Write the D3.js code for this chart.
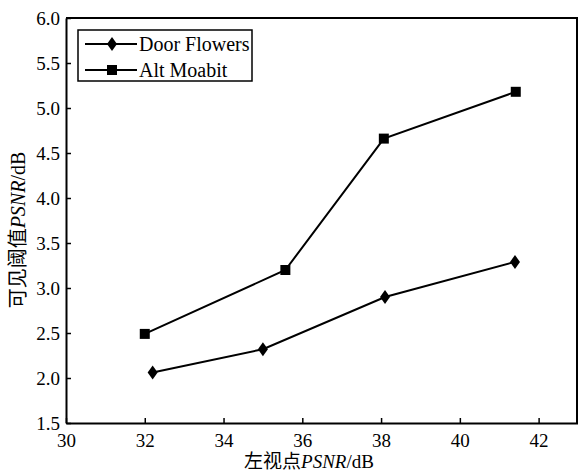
<!DOCTYPE html>
<html>
<head>
<meta charset="utf-8">
<script src="https://cdn.jsdelivr.net/npm/d3@7"></script>
<style>
  body { margin: 0; background: #fff; }
  svg text { font-family: "Liberation Serif", serif; fill: #000; }
  svg .cjk { font-family: "Noto Sans CJK SC", sans-serif; }
</style>
</head>
<body>
<div id="chart"></div>
<script>
// data
let seriesNames = ["Door Flowers", "Alt Moabit"];
let doorX = [32.2, 35.0, 38.1, 41.4];
let doorY = [2.06, 2.32, 2.90, 3.29];
let altX = [32.0, 35.57, 38.07, 41.42];
let altY = [2.49, 3.20, 4.66, 5.18];
let xTicks = [30, 32, 34, 36, 38, 40, 42];
let yTicks = [1.5, 2.0, 2.5, 3.0, 3.5, 4.0, 4.5, 5.0, 5.5, 6.0];

var margin = {top: 18, right: 0, bottom: 51, left: 66},
    width = 578 - margin.left - margin.right,
    height = 474 - margin.top - margin.bottom;

var svg = d3.select("#chart")
  .append("svg")
  .attr("width", 578)
  .attr("height", 474);
var g = svg.append("g")
  .attr("transform", "translate(" + margin.left + "," + margin.top + ")");

var x = d3.scaleLinear().domain([30, 43]).range([0, width]);
var y = d3.scaleLinear().domain([1.5, 6.0]).range([height, 0]);

// frame (top and right)
g.append("path")
  .attr("d", "M0,0H" + (width - 1) + "V" + height)
  .attr("fill", "none").attr("stroke", "#000").attr("stroke-width", 2);

// axes, ticks pointing inward
var xAxis = g.append("g")
  .attr("transform", "translate(0," + height + ")")
  .call(d3.axisBottom(x).tickValues(xTicks).tickSizeInner(-5).tickSizeOuter(0));
var yAxis = g.append("g")
  .call(d3.axisLeft(y).tickValues(yTicks).tickFormat(d3.format(".1f")).tickSizeInner(-5).tickSizeOuter(0).tickPadding(6));
[xAxis, yAxis].forEach(function(a) {
  a.attr("font-family", null);
  a.select(".domain").attr("stroke-width", 2);
  a.selectAll(".tick line").attr("stroke-width", 1.5);
  a.selectAll("text").style("font-size", "19px").attr("fill", "#000");
});
xAxis.selectAll("text").attr("dy", null).attr("y", 24);

var line = d3.line().x(d => x(d[0])).y(d => y(d[1]));
var doorData = doorX.map((v, i) => [v, doorY[i]]);
var altData = altX.map((v, i) => [v, altY[i]]);

function diamond(sel) {
  sel.attr("d", "M0,-7L5,0L0,7L-5,0Z").attr("fill", "#000");
}
function square(sel) {
  sel.attr("d", "M-5,-5H5V5H-5Z").attr("fill", "#000");
}

[[doorData, diamond], [altData, square]].forEach(function(s) {
  g.append("path").datum(s[0])
    .attr("d", line)
    .attr("fill", "none").attr("stroke", "#000").attr("stroke-width", 2);
  g.selectAll(null).data(s[0]).enter().append("path")
    .attr("transform", d => "translate(" + x(d[0]) + "," + y(d[1]) + ")")
    .call(s[1]);
});

// legend
var lg = svg.append("g").attr("transform", "translate(78,30)");
lg.append("rect").attr("width", 174).attr("height", 51)
  .attr("fill", "#fff").attr("stroke", "#000").attr("stroke-width", 1.5);
seriesNames.forEach(function(name, i) {
  var row = lg.append("g").attr("transform", "translate(0," + (14 + i * 26) + ")");
  row.append("line").attr("x1", 7).attr("x2", 59).attr("stroke", "#000").attr("stroke-width", 2);
  row.append("path").attr("transform", "translate(34,0)").call(i == 0 ? diamond : square);
  row.append("text").attr("x", 61).attr("dy", "0.35em").style("font-size", "20px").text(name);
});

// axis titles
var xt = svg.append("text")
  .attr("x", 309).attr("y", 468)
  .attr("text-anchor", "middle").style("font-size", "19px");
xt.append("tspan").attr("class", "cjk").text("左视点");
xt.append("tspan").attr("font-style", "italic").text("PSNR");
xt.append("tspan").text("/dB");

var yt = svg.append("text")
  .attr("transform", "translate(25,230) rotate(-90)")
  .attr("text-anchor", "middle").style("font-size", "20px");
yt.append("tspan").attr("class", "cjk").text("可见阈值");
yt.append("tspan").attr("font-style", "italic").text("PSNR");
yt.append("tspan").text("/dB");
</script>
</body>
</html>
